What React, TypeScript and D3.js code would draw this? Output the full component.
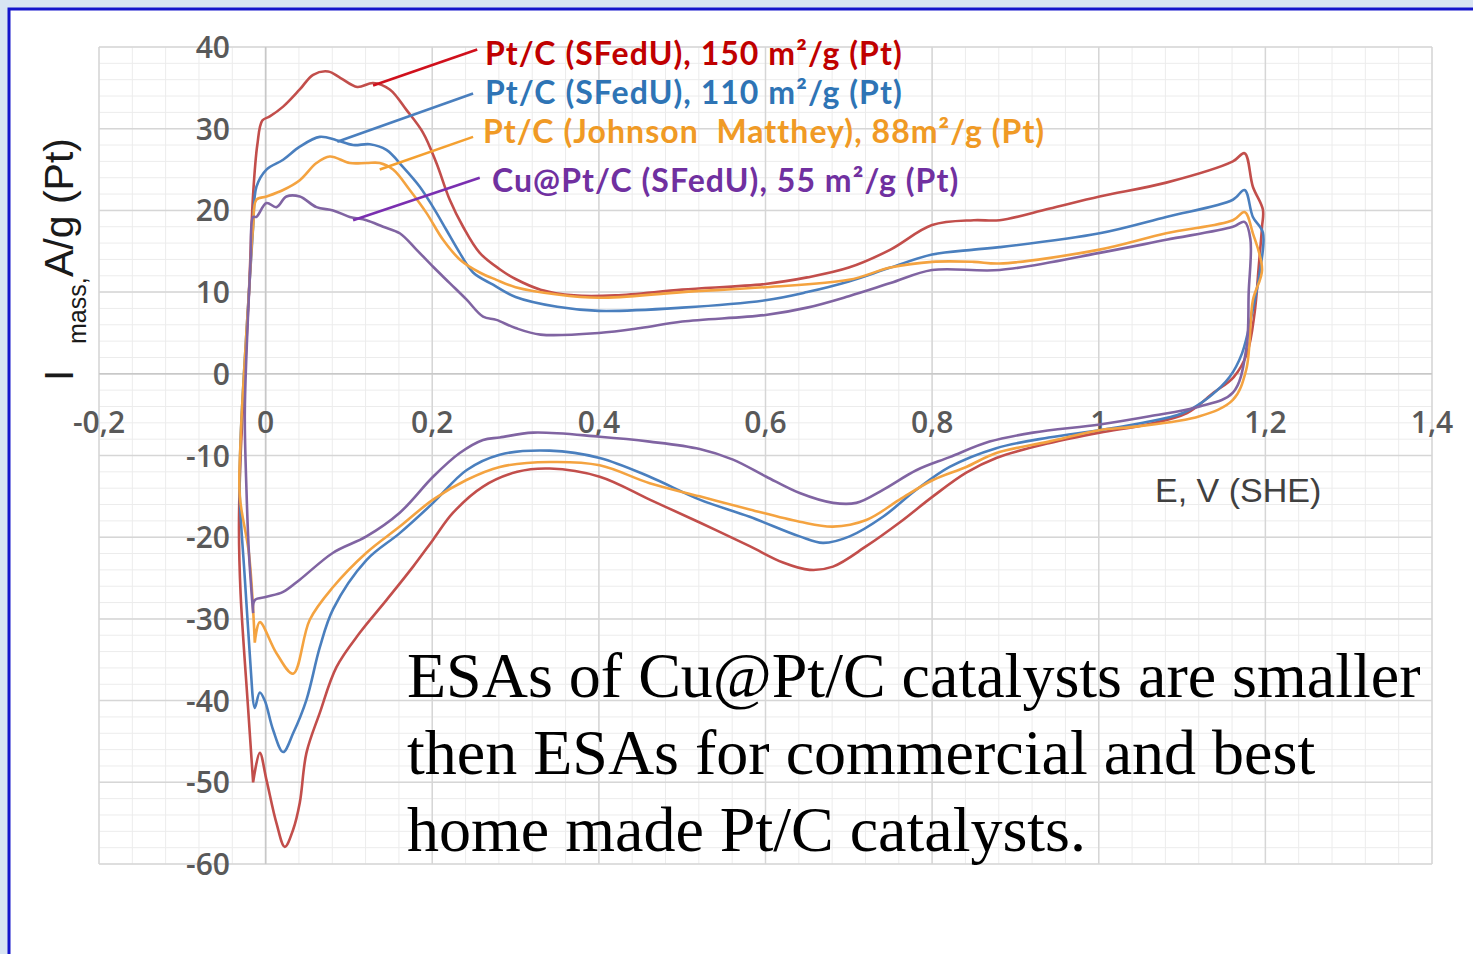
import React from "react";
import * as d3 from "d3";

const W = 1473;
const H = 954;

// Axis ticks
const xTicks = [-0.2, 0, 0.2, 0.4, 0.6, 0.8, 1, 1.2, 1.4];
const xTickLabels = ["-0,2", "0", "0,2", "0,4", "0,6", "0,8", "1", "1,2", "1,4"];
const yTicks = [-60, -50, -40, -30, -20, -10, 0, 10, 20, 30, 40];

// Cyclic voltammograms, [E (V vs SHE), I (A/g Pt)], each a closed loop
const ptc150: [number, number][] = [
  [-0.015, -50], [-0.021, -41], [-0.03, -27], [-0.032, -19], [-0.03, -10], [-0.025, 0],
  [-0.02, 10], [-0.015, 22], [-0.01, 28], [-0.004, 31], [0.005, 31.5], [0.021, 32.7],
  [0.041, 34.8], [0.057, 36.6], [0.075, 37], [0.09, 36.2], [0.11, 35.1], [0.129, 35.6],
  [0.149, 34.8], [0.169, 32.3], [0.189, 29.5], [0.205, 25.8], [0.221, 21.3], [0.237, 18],
  [0.257, 14.8], [0.281, 12.8], [0.3, 11.6], [0.33, 10.3], [0.37, 9.6], [0.42, 9.6],
  [0.5, 10.3], [0.6, 11], [0.65, 11.8], [0.7, 13], [0.75, 15.2], [0.8, 18.2], [0.85, 18.8],
  [0.881, 18.8], [0.94, 20.2], [1.001, 21.7], [1.081, 23.4], [1.161, 26], [1.175, 27],
  [1.185, 22.9], [1.197, 20.1], [1.196, 18], [1.192, 13.1], [1.187, 7.4], [1.178, 2.5],
  [1.162, -0.4], [1.138, -2.3], [1.106, -4.8], [1.058, -6.2], [1.001, -7.2], [0.94, -8.5],
  [0.877, -10.3], [0.841, -12.1], [0.801, -15], [0.761, -18.2], [0.721, -21.1], [0.681, -23.6],
  [0.653, -24], [0.621, -23.1], [0.581, -21.1], [0.521, -18.2], [0.461, -15.4], [0.401, -12.6],
  [0.341, -11.6], [0.302, -12], [0.261, -13.8], [0.225, -17], [0.201, -20.3], [0.177, -23.6],
  [0.145, -27.7], [0.113, -31.7], [0.085, -35.9], [0.065, -41.5], [0.049, -46.4], [0.041, -52.5],
  [0.033, -55.8], [0.023, -57.9], [0.013, -55], [0.001, -49.7], [-0.007, -46.4], [-0.015, -50],
];

const ptc110: [number, number][] = [
  [-0.016, -39], [-0.025, -25], [-0.031, -15], [-0.03, -8], [-0.026, 0], [-0.02, 10],
  [-0.015, 18], [-0.011, 22.9], [0.001, 25], [0.021, 26.2], [0.041, 27.8], [0.065, 29],
  [0.085, 28.6], [0.105, 28], [0.125, 28.1], [0.145, 27.4], [0.165, 25.3], [0.185, 22.9],
  [0.201, 20.4], [0.217, 17.6], [0.233, 14.8], [0.249, 12.4], [0.273, 10.9], [0.3, 9.4],
  [0.35, 8.2], [0.4, 7.7], [0.5, 8.1], [0.6, 9], [0.65, 10], [0.7, 11.3], [0.75, 13],
  [0.8, 14.6], [0.85, 15.2], [0.881, 15.5], [1.001, 17.2], [1.081, 19.2], [1.161, 21.3],
  [1.175, 22.5], [1.185, 19.2], [1.197, 17.3], [1.193, 12.3], [1.184, 7.4], [1.172, 2.5],
  [1.157, -0.4], [1.133, -2.8], [1.101, -4.8], [1.053, -6], [1.001, -6.9], [0.94, -7.8],
  [0.877, -9.1], [0.821, -11.4], [0.781, -14.2], [0.741, -17.5], [0.701, -19.9], [0.669, -20.7],
  [0.641, -19.9], [0.581, -17.5], [0.521, -15.4], [0.461, -12.6], [0.401, -10.3], [0.341, -9.4],
  [0.281, -9.9], [0.241, -11.8], [0.201, -15.8], [0.161, -19.5], [0.121, -22.8], [0.081, -28.8],
  [0.065, -33.5], [0.049, -39.9], [0.033, -44], [0.021, -46.3], [0.009, -43.6], [-0.001, -40],
  [-0.007, -39], [-0.013, -40.9], [-0.016, -39],
];

const ptcJM88: [number, number][] = [
  [-0.013, -32.9], [-0.02, -22], [-0.031, -15], [-0.03, -8], [-0.026, 0], [-0.02, 10],
  [-0.015, 18], [-0.011, 21.3], [0.001, 21.7], [0.021, 22.5], [0.041, 23.7], [0.061, 25.8],
  [0.077, 26.6], [0.101, 25.8], [0.121, 25.8], [0.137, 25.8], [0.153, 25], [0.173, 22.5],
  [0.193, 19.7], [0.213, 16.4], [0.233, 14], [0.257, 12.4], [0.277, 11.5], [0.3, 10.6],
  [0.35, 9.7], [0.4, 9.3], [0.5, 10], [0.6, 10.6], [0.7, 11.5], [0.75, 13], [0.8, 13.7],
  [0.85, 13.7], [0.881, 13.5], [1.001, 15.2], [1.081, 17.2], [1.161, 18.8], [1.175, 19.8],
  [1.185, 17.2], [1.196, 12.7], [1.185, 9], [1.177, 0.5], [1.161, -3.2], [1.121, -5.2],
  [1.041, -6.5], [1.001, -6.9], [0.94, -8.3], [0.877, -9.7], [0.841, -11.4], [0.801, -13],
  [0.761, -15.4], [0.721, -17.9], [0.681, -18.7], [0.641, -18.1], [0.581, -16.6], [0.521, -15],
  [0.461, -13.4], [0.401, -11.2], [0.341, -10.8], [0.281, -11.4], [0.241, -13], [0.201, -15.4],
  [0.161, -18.7], [0.121, -21.9], [0.081, -26.1], [0.053, -30.1], [0.033, -36.7], [0.013, -34.2],
  [-0.007, -30.4], [-0.013, -32.9],
];

const cuptc55: [number, number][] = [
  [-0.015, -29.3], [-0.02, -22], [-0.023, -14.2], [-0.025, -5], [-0.022, 5], [-0.018, 14],
  [-0.015, 19.2], [-0.011, 19.2], [0.001, 20.9], [0.013, 20.4], [0.025, 21.7], [0.041, 21.7],
  [0.061, 20.4], [0.081, 20], [0.101, 19.2], [0.121, 18.8], [0.141, 18], [0.161, 17.2],
  [0.181, 15.2], [0.201, 13.1], [0.221, 11.1], [0.241, 9.1], [0.261, 7], [0.277, 6.6],
  [0.3, 5.6], [0.33, 4.8], [0.4, 5], [0.45, 5.6], [0.5, 6.4], [0.6, 7.2], [0.65, 8.1],
  [0.7, 9.5], [0.75, 11.1], [0.8, 12.7], [0.881, 12.7], [1.001, 14.8], [1.081, 16.4],
  [1.161, 18], [1.175, 18.6], [1.182, 16.5], [1.18, 10], [1.177, 3], [1.161, -2.3],
  [1.121, -4], [1.061, -5.2], [1.001, -6.2], [0.921, -7.2], [0.869, -8.3], [0.821, -10.2],
  [0.781, -11.8], [0.741, -14.2], [0.709, -15.8], [0.681, -15.8], [0.641, -14.6], [0.601, -12.6],
  [0.561, -10.5], [0.521, -9.2], [0.461, -8.3], [0.401, -7.7], [0.321, -7.2], [0.281, -7.8],
  [0.261, -8.1], [0.233, -9.7], [0.201, -12.6], [0.161, -17], [0.121, -19.9], [0.081, -21.9],
  [0.041, -25.2], [0.021, -26.7], [0.001, -27.3], [-0.013, -27.7], [-0.015, -29.3],
];

const seriesLabels = [
  "Pt/C (SFedU), 150 m²/g (Pt)",
  "Pt/C (SFedU), 110 m²/g (Pt)",
  "Pt/C (Johnson  Matthey), 88m²/g (Pt)",
  "Cu@Pt/C (SFedU), 55 m²/g (Pt)",
];
const seriesData = [ptc150, ptc110, ptcJM88, cuptc55];
const curveColors = ["#C24E4B", "#4A7FBE", "#F4A340", "#8064A2"];
const textColors = ["#C00000", "#2E74B5", "#F09A25", "#7030A0"];
const leaderColors = ["#D0101C", "#4A7FBE", "#F4A030", "#7A2FB0"];

// Leader lines: point on the curve -> label end, in data units
const leaderFrom: [number, number][] = [[0.129, 35.3], [0.086, 28.4], [0.137, 25], [0.105, 18.8]];
const leaderTo: [number, number][] = [[0.254, 39.7], [0.249, 34.3], [0.249, 29], [0.257, 24]];
const labelBaselines = [65, 104, 143, 192];
const labelX = [485, 485, 483, 492];

const noteLines = [
  "ESAs of Cu@Pt/C catalysts are smaller",
  "then ESAs for commercial and best",
  "home made Pt/C catalysts.",
];

export default function App() {
  const x = d3.scaleLinear().domain([-0.2, 1.4]).range([99, 1432]);
  const y = d3.scaleLinear().domain([-60, 40]).range([864, 47]);

  const line = d3
    .line<[number, number]>()
    .x((d) => x(d[0]))
    .y((d) => y(d[1]))
    .curve(d3.curveCatmullRom.alpha(0.5));

  const minorX = d3.range(-0.2, 1.4001, 0.04);
  const minorY = d3.range(-60, 40.001, 2);

  const tickFont = "'Open Sans', sans-serif";

  return (
    <svg
      width={W}
      height={H}
      viewBox={`0 0 ${W} ${H}`}
      style={{ position: "absolute", left: 0, top: 0, display: "block" }}
    >
      {/* page background and frame */}
      <rect x={0} y={0} width={W} height={H} fill="#D8E4F3" />
      <rect x={9} y={9} width={W} height={H} fill="#FFFFFF" stroke="#1414CC" strokeWidth={3} />

      {/* grid */}
      <g>
        {minorX.map((v, i) => (
          <line key={"mx" + i} x1={x(v)} x2={x(v)} y1={y(-60)} y2={y(40)} stroke="#ECECEC" strokeWidth={1} />
        ))}
        {minorY.map((v, i) => (
          <line key={"my" + i} x1={x(-0.2)} x2={x(1.4)} y1={y(v)} y2={y(v)} stroke="#ECECEC" strokeWidth={1} />
        ))}
        {xTicks.map((v, i) => (
          <line key={"gx" + i} x1={x(v)} x2={x(v)} y1={y(-60)} y2={y(40)} stroke="#D6D6D6" strokeWidth={1.5} />
        ))}
        {yTicks.map((v, i) => (
          <line key={"gy" + i} x1={x(-0.2)} x2={x(1.4)} y1={y(v)} y2={y(v)} stroke="#D6D6D6" strokeWidth={1.5} />
        ))}
        <line x1={x(0)} x2={x(0)} y1={y(-60)} y2={y(40)} stroke="#C8C8C8" strokeWidth={1.5} />
        <line x1={x(-0.2)} x2={x(1.4)} y1={y(0)} y2={y(0)} stroke="#C8C8C8" strokeWidth={1.5} />
      </g>

      {/* tick labels */}
      <g fontFamily={tickFont} fontWeight={600} fontSize={30} fill="#595959">
        {yTicks.map((v, i) => (
          <text key={"yt" + i} x={230} y={y(v) + 11} textAnchor="end">
            {String(v)}
          </text>
        ))}
        {xTicks.map((v, i) => (
          <text key={"xt" + i} x={x(v)} y={433} textAnchor="middle">
            {xTickLabels[i]}
          </text>
        ))}
      </g>

      {/* axis titles */}
      <text x={1155} y={502} fontFamily="'Liberation Sans', Arial, sans-serif" fontSize={34} fill="#404040">
        E, V (SHE)
      </text>
      <g fontFamily="'Liberation Sans', Arial, sans-serif" fill="#1A1A1A">
        <text transform="translate(73,381) rotate(-90)" fontSize={40}>I</text>
        <text transform="translate(86,344) rotate(-90)" fontSize={25}>mass,</text>
        <text transform="translate(73,277) rotate(-90)" fontSize={41}>A/g (Pt)</text>
      </g>

      {/* curves */}
      <g fill="none" strokeWidth={2.6} strokeLinejoin="round">
        {seriesData.map((d, i) => (
          <path key={"c" + i} d={line(d) || ""} stroke={curveColors[i]} />
        ))}
      </g>

      {/* labels with leader lines */}
      <g fontFamily="Lato, 'Open Sans', sans-serif" fontWeight={700} fontSize={32} letterSpacing={1.05}>
        {seriesLabels.map((s, i) => (
          <g key={"l" + i}>
            <line
              x1={x(leaderFrom[i][0])}
              y1={y(leaderFrom[i][1])}
              x2={x(leaderTo[i][0])}
              y2={y(leaderTo[i][1])}
              stroke={leaderColors[i]}
              strokeWidth={2.6}
            />
            <text x={labelX[i]} y={labelBaselines[i]} fill={textColors[i]} style={{ whiteSpace: "pre" }}>
              {s}
            </text>
          </g>
        ))}
      </g>

      {/* note */}
      <g fontFamily="'Liberation Serif', 'Times New Roman', serif" fontSize={64} fill="#000000">
        {noteLines.map((s, i) => (
          <text key={"n" + i} x={407} y={697 + i * 77}>
            {s}
          </text>
        ))}
      </g>
    </svg>
  );
}
